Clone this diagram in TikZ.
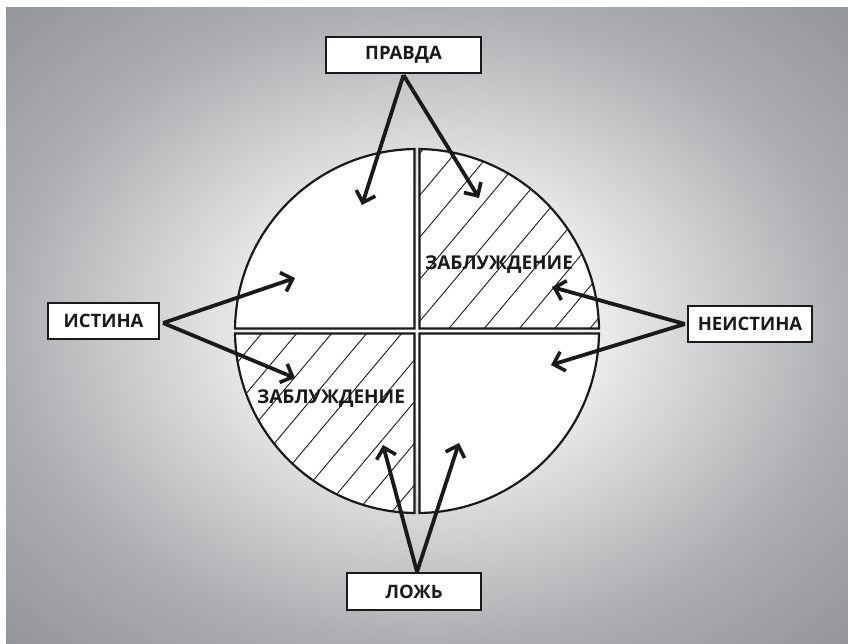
\documentclass[tikz,border=0pt]{standalone}
\usepackage{fontspec}
\setmainfont{Open Sans}
\usetikzlibrary{arrows.meta}
\definecolor{bgA}{HTML}{FDFDFD}
\definecolor{bgB}{HTML}{E0E0E1}
\definecolor{bgC}{HTML}{ADAEB1}
\definecolor{bgD}{HTML}{939498}
\definecolor{ink}{HTML}{1A1A1A}
\pgfdeclareradialshading{bgshade}{\pgfpoint{0bp}{0bp}}{color(0bp)=(bgA); color(6bp)=(bgA); color(13bp)=(bgB); color(25bp)=(bgC); color(36bp)=(bgD); color(50bp)=(bgD)}
\tikzset{
  quad/.style={draw=ink, line width=2.2pt},
  hatch/.style={draw=ink, line width=0.9pt},
  lab/.style={draw=ink, line width=2.2pt, fill=white, inner sep=0pt, text=ink,
    font=\fontsize{18.5}{20}\selectfont\bfseries},
  zlab/.style={text=ink, inner sep=0pt, font=\fontsize{19}{21}\selectfont\bfseries},
  arr/.style={draw=ink, line width=3.8pt, -{Straight Barb[length=10pt,width=20pt,line width=3.6pt]}}
}
\begin{document}
\begin{tikzpicture}[x=1pt,y=-1pt]
\useasboundingbox (0,0) rectangle (848,643);
\fill[white] (0,0) rectangle (848,643);
\shade[shading=bgshade] (6,7) rectangle (848,643);
% quadrants
\def\TL{(414.5,328.5) -- (235.02,328.5) arc[start angle=180.787, end angle=269.213, radius=182] -- cycle}
\def\TR{(419.5,328.5) -- (419.5,149.02) arc[start angle=270.787, end angle=359.213, radius=182] -- cycle}
\def\BR{(419.5,333.5) -- (598.98,333.5) arc[start angle=0.787, end angle=89.213, radius=182] -- cycle}
\def\BL{(414.5,333.5) -- (414.5,512.98) arc[start angle=90.787, end angle=179.213, radius=182] -- cycle}
\fill[white] \TL; \fill[white] \TR; \fill[white] \BR; \fill[white] \BL;
\begin{scope}
  \clip \TR;
  \foreach \k in {-6,...,8} \draw[hatch] ({420},{195+42*\k}) ++(130:320) -- ++(-50:640);
\end{scope}
\begin{scope}
  \clip \BL;
  \foreach \k in {-8,...,8} \draw[hatch] ({262+35*\k},{333}) ++(130:320) -- ++(-50:640);
\end{scope}
\draw[quad] \TL; \draw[quad] \TR; \draw[quad] \BR; \draw[quad] \BL;
\node[zlab] (z1) at (499,265) {ЗАБЛУЖДЕНИЕ};
\node[zlab] (z2) at (331,399) {ЗАБЛУЖДЕНИЕ};
% targets
\coordinate (t1) at (362,205);
\coordinate (t2) at (479,198);
\coordinate (t3) at (295,278);
\coordinate (t4) at (295,378);
\coordinate (t5) at (552,287);
\coordinate (t6) at (551,365);
\coordinate (t7) at (383,445);
\coordinate (t8) at (459,443);
% boxes
\node[lab, minimum width=155pt, minimum height=36pt] (pravda) at (403.5,55) {ПРАВДА};
\node[lab, minimum width=111pt, minimum height=36pt] (istina) at (103.5,321) {ИСТИНА};
\node[lab, minimum width=124pt, minimum height=36pt] (neistina) at (750,324) {НЕИСТИНА};
\node[lab, minimum width=134pt, minimum height=37pt] (lozh) at (414,591.5) {ЛОЖЬ};
\coordinate (pS) at ([yshift=-1pt]pravda.south);
\coordinate (iE) at ([xshift=3pt,yshift=-2pt]istina.east);
\coordinate (nW) at ([xshift=-2pt]neistina.west);
\coordinate (lN) at ([xshift=3pt]lozh.north);
\draw[arr] (pS) -- (t1);
\draw[arr] (pS) -- (t2);
\draw[arr] (iE) -- (t3);
\draw[arr] (iE) -- (t4);
\draw[arr] (nW) -- (t5);
\draw[arr] (nW) -- (t6);
\draw[arr] (lN) -- (t7);
\draw[arr] (lN) -- (t8);
% redraw boxes on top
\node[lab, minimum width=155pt, minimum height=36pt] at (pravda) {ПРАВДА};
\node[lab, minimum width=111pt, minimum height=36pt] at (istina) {ИСТИНА};
\node[lab, minimum width=124pt, minimum height=36pt] at (neistina) {НЕИСТИНА};
\node[lab, minimum width=134pt, minimum height=37pt] at (lozh) {ЛОЖЬ};
\end{tikzpicture}
\end{document}
